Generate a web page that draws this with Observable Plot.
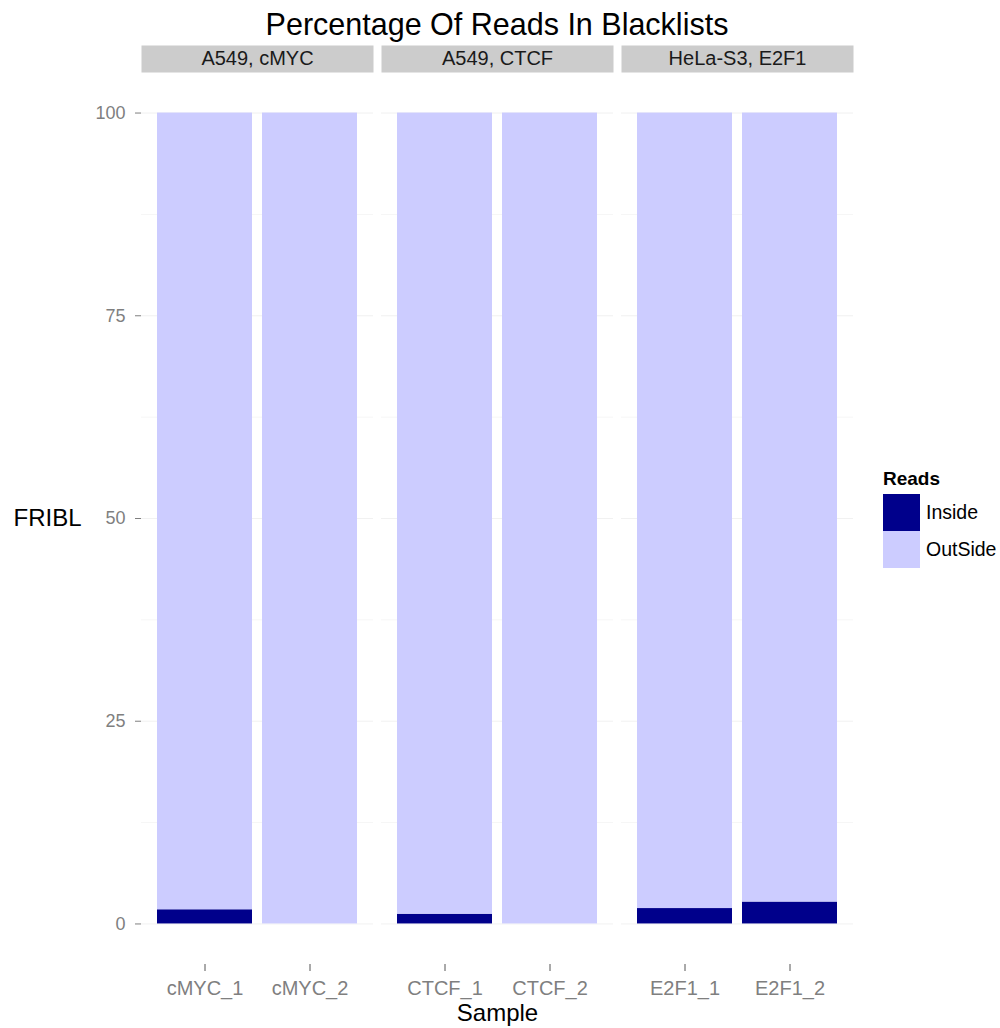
<!DOCTYPE html>
<html>
<head>
<meta charset="utf-8">
<script src="https://cdn.jsdelivr.net/npm/d3@7"></script>
<script src="https://cdn.jsdelivr.net/npm/@observablehq/plot@0.6"></script>
<style>
  body { margin: 0; background: #fff; font-family: "Liberation Sans", Arial, sans-serif; }
  #page { position: relative; width: 1000px; height: 1028px; }
  #title { width: 994px; height: 40px; line-height: 48px; text-align: center; font-size: 30.5px; color: #000; white-space: nowrap; }
  #chart svg { display: block; }
  #legend { position: absolute; left: 883px; top: 464px; }
  #legend .head { font-weight: bold; font-size: 19px; line-height: 30px; height: 30px; color: #000; }
  .reads-swatches { margin: 0 !important; min-height: 0 !important; font-family: "Liberation Sans", Arial, sans-serif !important; font-size: 19.5px !important; color: #000 !important; }
  .reads-swatch { padding-bottom: 0 !important; margin: 0 !important; }
  .reads-swatch > svg { margin-right: 6px !important; }
</style>
</head>
<body>
<div id="page">
  <div id="title">Percentage Of Reads In Blacklists</div>
  <div id="chart"></div>
  <div id="legend"><div class="head">Reads</div></div>
</div>
<script>
// Panels (cell line, factor), the samples in each panel, and the share of reads inside blacklisted regions (%)
const facets = ["A549, cMYC", "A549, CTCF", "HeLa-S3, E2F1"];
const samples = ["cMYC_1", "cMYC_2", "CTCF_1", "CTCF_2", "E2F1_1", "E2F1_2"];
const sampleFacet = ["A549, cMYC", "A549, cMYC", "A549, CTCF", "A549, CTCF", "HeLa-S3, E2F1", "HeLa-S3, E2F1"];
const replicate = ["1", "2", "1", "2", "1", "2"];
const insidePct = [1.75, 0, 1.2, 0, 1.9, 2.7];
const readGroups = ["Inside", "OutSide"];
const readColors = ["#00008b", "#ccccff"];
const yTicks = [0, 25, 50, 75, 100];
const yMinor = [12.5, 37.5, 62.5, 87.5];

// One row per sample and read group; Inside is stacked first, OutSide makes up the rest of 100%
const sampleRows = samples.map((s, i) => ({sample: s, facet: sampleFacet[i], rep: replicate[i]}));
const rows = sampleRows.flatMap((r, i) => [
  {...r, reads: "Inside", value: insidePct[i]},
  {...r, reads: "OutSide", value: 100 - insidePct[i]}
]);

const W = 1000, H = 988, MT = 32, MB = 64;
const innerH = H - MT - MB;

const plot = Plot.plot({
  width: W,
  height: H,
  marginTop: MT,
  marginBottom: MB,
  marginLeft: 141,
  marginRight: 147,
  style: {fontFamily: "Liberation Sans, Arial, sans-serif", background: "#fff"},
  fx: {domain: facets, paddingInner: 8 / 240, paddingOuter: 0, axis: null},
  x: {domain: ["1", "2"], paddingInner: 0.1, paddingOuter: 0.15},
  y: {domain: [-5, 105]},
  color: {domain: readGroups, range: readColors},
  marks: [
    Plot.gridY(yMinor, {stroke: "#f6f6f6", strokeOpacity: 1}),
    Plot.gridY(yTicks, {stroke: "#f1f1f1", strokeOpacity: 1}),
    // grey facet strips above each panel
    Plot.frame({fill: "#cccccc", stroke: null, insetTop: -27, insetBottom: innerH}),
    Plot.text(facets, {fx: d => d, text: d => d, frameAnchor: "top", lineAnchor: "middle", dy: -13.5, fontSize: 20, fill: "#1a1a1a"}),
    Plot.barY(rows, Plot.stackY({fx: "facet", x: "rep", y: "value", fill: "reads"})),
    Plot.axisY({ticks: yTicks, tickSize: 6, tickPadding: 10, fontSize: 18, color: "#7f7f7f", label: null}),
    Plot.axisX({tickSize: 7, tickFormat: () => "", color: "#555", label: null}),
    Plot.text(sampleRows, {fx: "facet", x: "rep", text: "sample", frameAnchor: "bottom", lineAnchor: "middle", dy: 24, fontSize: 20, fill: "#7f7f7f"}),
    Plot.text([facets[0]], {fx: d => d, text: () => "FRIBL", frameAnchor: "left", lineAnchor: "middle", dx: -128, textAnchor: "start", fontSize: 24, fill: "#000"}),
    Plot.text([facets[1]], {fx: d => d, text: () => "Sample", frameAnchor: "bottom", lineAnchor: "middle", dy: 49, fontSize: 24, fill: "#000"})
  ]
});
document.getElementById("chart").appendChild(plot);

const legend = plot.legend("color", {
  legend: "swatches",
  columns: 1,
  swatchSize: 37,
  className: "reads",
  style: {fontSize: "19.5px", fontFamily: "Liberation Sans, Arial, sans-serif", color: "#000"}
});
document.getElementById("legend").appendChild(legend);
</script>
</body>
</html>
